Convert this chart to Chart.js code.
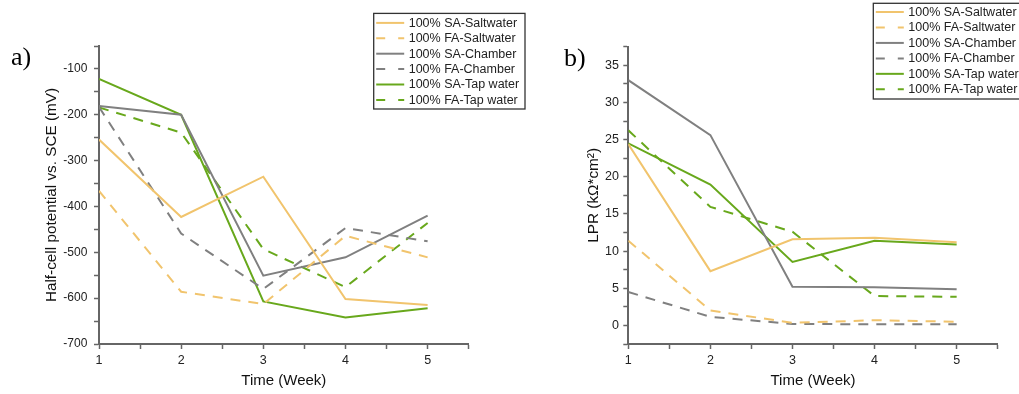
<!DOCTYPE html>
<html>
<head>
<meta charset="utf-8">
<script src="https://cdn.jsdelivr.net/npm/chart.js@4"></script>
<style>
html, body { margin: 0; padding: 0; background: #fff; }
#wrap { position: relative; width: 1019px; height: 394px; overflow: hidden; }
#c1 { position: absolute; left: 0; top: 0; }
#c2 { position: absolute; left: 530px; top: 0; }
</style>
</head>
<body>
<div id="wrap">
  <canvas id="c1" width="530" height="394"></canvas>
  <canvas id="c2" width="489" height="394"></canvas>
</div>
<script>
// data
const weeks = [1, 2, 3, 4, 5];
const seriesNames = ['100% SA-Saltwater', '100% FA-Saltwater', '100% SA-Chamber', '100% FA-Chamber', '100% SA-Tap water', '100% FA-Tap water'];

// a) half-cell potential vs. SCE (mV)
const potSASalt = [-254, -423, -335, -602, -615];
const potFASalt = [-366, -586, -613, -464, -511];
const potSACham = [-181, -200, -551, -511, -420];
const potFACham = [-183, -459, -580, -447, -476];
const potSATap  = [-122, -200, -607, -642, -622];
const potFATap  = [-184, -239, -493, -576, -436];

// b) LPR (kOhm*cm2)
const lprSASalt = [24.4, 7.3, 11.6, 11.8, 11.2];
const lprFASalt = [11.4, 2.0, 0.35, 0.7, 0.5];
const lprSACham = [33.0, 25.6, 5.2, 5.15, 4.85];
const lprFACham = [4.5, 1.15, 0.2, 0.15, 0.15];
const lprSATap  = [24.5, 18.95, 8.55, 11.4, 10.9];
const lprFATap  = [26.25, 15.95, 12.6, 3.95, 3.85];

const orange = '#f1c46d';
const grey = '#808080';
const green = '#68a81c';
const colors = [orange, orange, grey, grey, green, green];
const dashed = [false, true, false, true, false, true];
const FONT = "'Liberation Sans', Arial, sans-serif";

function makeDatasets(arrays) {
    return arrays.map((vals, i) => ({
        label: seriesNames[i],
        data: weeks.map((w, j) => ({ x: w, y: vals[j] })),
        borderColor: colors[i],
        backgroundColor: colors[i],
        borderWidth: 2,
        borderDash: dashed[i] ? [10, 8] : [],
        pointRadius: 0,
        tension: 0,
        fill: false
    }));
}

// boxed legend + panel letter, drawn on the canvas
function decoPlugin(box, letter) {
    return {
        id: 'deco',
        afterDraw(chart) {
            const ctx = chart.ctx;
            ctx.save();
            ctx.font = "26px 'Liberation Serif', 'Times New Roman', serif";
            ctx.fillStyle = '#000';
            ctx.textBaseline = 'alphabetic';
            ctx.textAlign = 'left';
            ctx.fillText(letter.text, letter.x, letter.y);

            ctx.fillStyle = '#fff';
            ctx.fillRect(box.x0, box.y0, box.x1 - box.x0, box.y1 - box.y0);
            ctx.strokeStyle = '#333';
            ctx.lineWidth = 1.3;
            ctx.strokeRect(box.x0, box.y0, box.x1 - box.x0, box.y1 - box.y0);

            ctx.font = '12.5px ' + FONT;
            ctx.textBaseline = 'middle';
            chart.data.datasets.forEach((ds, i) => {
                const y = box.row0 + i * box.step;
                ctx.beginPath();
                ctx.setLineDash(dashed[i] ? [9, 13] : []);
                ctx.strokeStyle = ds.borderColor;
                ctx.lineWidth = 2;
                ctx.moveTo(box.x0 + 2.5, y);
                ctx.lineTo(box.x0 + 30.5, y);
                ctx.stroke();
                ctx.setLineDash([]);
                ctx.fillStyle = '#222';
                ctx.fillText(ds.label, box.x0 + 35, y + 0.5);
            });
            ctx.restore();
        }
    };
}

function xAxis() {
    return {
        type: 'linear', min: 1, max: 5.5,
        afterFit: s => { s.height = 50; },
        border: { color: '#666', width: 2 },
        grid: { drawOnChartArea: false, tickLength: 5, tickColor: '#666', tickWidth: 1.5 },
        ticks: {
            stepSize: 0.5, autoSkip: false, maxRotation: 0, padding: 4,
            color: '#222', font: { family: FONT, size: 12.5 },
            callback: v => Number.isInteger(v) ? String(v) : ''
        },
        title: {
            display: true, text: 'Time (Week)', color: '#111',
            font: { family: FONT, size: 15 }, padding: { top: 0, bottom: 4 }
        }
    };
}

new Chart(document.getElementById('c1'), {
    type: 'line',
    data: { datasets: makeDatasets([potSASalt, potFASalt, potSACham, potFACham, potSATap, potFATap]) },
    options: {
        responsive: false,
        animation: false,
        layout: { padding: { left: 0, top: 46, right: 61.3, bottom: 0 } },
        plugins: { legend: { display: false }, tooltip: { enabled: false } },
        scales: {
            x: xAxis(),
            y: {
                min: -700, max: -50,
                afterFit: s => { s.width = 99; },
                border: { color: '#666', width: 2 },
                grid: { drawOnChartArea: false, tickLength: 5, tickColor: '#666', tickWidth: 1.5 },
                ticks: {
                    stepSize: 50, autoSkip: false, padding: 6.7,
                    color: '#222', font: { family: FONT, size: 12 },
                    callback: v => v % 100 === 0 ? String(v) : ''
                },
                title: {
                    display: true, text: 'Half-cell potential vs. SCE (mV)', color: '#111',
                    font: { family: FONT, size: 15.3 }, padding: { top: 42.3, bottom: 0 }
                }
            }
        }
    },
    plugins: [decoPlugin({ x0: 373.7, y0: 13.4, x1: 525, y1: 109, row0: 22.9, step: 15.4 }, { text: 'a)', x: 11, y: 64.5 })]
});

new Chart(document.getElementById('c2'), {
    type: 'line',
    data: { datasets: makeDatasets([lprSASalt, lprFASalt, lprSACham, lprFACham, lprSATap, lprFATap]) },
    options: {
        responsive: false,
        animation: false,
        layout: { padding: { left: 0, top: 46.7, right: 21.3, bottom: 0 } },
        plugins: { legend: { display: false }, tooltip: { enabled: false } },
        scales: {
            x: xAxis(),
            y: {
                min: -2.5, max: 37.5,
                afterFit: s => { s.width = 98.3; },
                border: { color: '#666', width: 2 },
                grid: { drawOnChartArea: false, tickLength: 5, tickColor: '#666', tickWidth: 1.5 },
                ticks: {
                    stepSize: 2.5, autoSkip: false, padding: 4.3,
                    color: '#222', font: { family: FONT, size: 12.5 },
                    callback: v => v % 5 === 0 ? String(v) : ''
                },
                title: {
                    display: true, text: 'LPR (kΩ*cm²)', color: '#111',
                    font: { family: FONT, size: 15.3 }, padding: { top: 54.3, bottom: 0 }
                }
            }
        }
    },
    plugins: [decoPlugin({ x0: 343.3, y0: 3.3, x1: 500, y1: 99, row0: 12, step: 15.46 }, { text: 'b)', x: 34, y: 66 })]
});
</script>
</body>
</html>
